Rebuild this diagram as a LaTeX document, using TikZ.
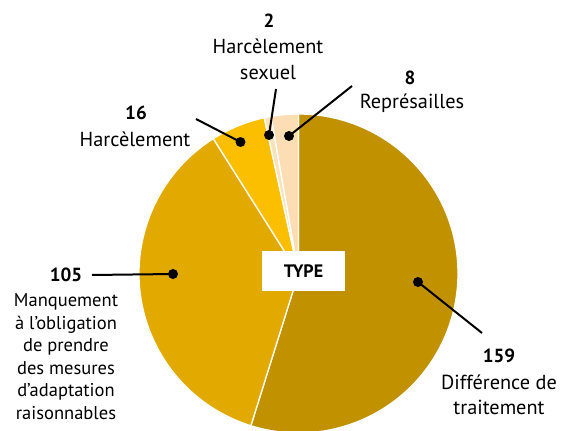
\documentclass[tikz,border=0pt]{standalone}
\usepackage{fontspec}
\setmainfont{PT Sans}
\usepackage{tikz}

\definecolor{coldif}{RGB}{193,145,0}
\definecolor{colman}{RGB}{226,169,0}
\definecolor{colhar}{RGB}{252,191,0}
\definecolor{colsex}{RGB}{250,226,186}
\definecolor{colrep}{RGB}{253,222,180}

\tikzset{
  slice/.style={draw=white, line width=1.3pt},
  dot/.style={circle, fill=black, inner sep=0pt, minimum size=10pt},
  leader/.style={line width=2pt},
  num/.style={inner sep=0.75pt, font=\fontsize{19}{22}\selectfont\bfseries},
  lbl/.style={inner sep=0.75pt, align=center, font=\fontsize{20.3}{25.5}\selectfont},
}

\begin{document}
\begin{tikzpicture}[x=1pt,y=1pt,yscale=-1,xscale=1]
\path[use as bounding box] (0,0) rectangle (563,431);

\coordinate (ctr) at (298.5,273.5);

%Shape: Pie slices (clockwise from the top)
\filldraw[slice, fill=coldif] (ctr) -- ++(-90:159.5) arc[start angle=-90, end angle=107.38, radius=159.5] -- cycle;
\filldraw[slice, fill=colman] (ctr) -- ++(107.38:159.5) arc[start angle=107.38, end angle=237.72, radius=159.5] -- cycle;
\filldraw[slice, fill=colhar] (ctr) -- ++(237.72:159.5) arc[start angle=237.72, end angle=257.59, radius=159.5] -- cycle;
\filldraw[slice, fill=colsex] (ctr) -- ++(257.59:159.5) arc[start angle=257.59, end angle=260.07, radius=159.5] -- cycle;
\filldraw[slice, fill=colrep] (ctr) -- ++(260.07:159.5) arc[start angle=260.07, end angle=270, radius=159.5] -- cycle;

%Shape: Rectangle
\node[fill=white, minimum width=83pt, minimum height=40pt, inner sep=0pt,
  font=\fontsize{18}{20}\selectfont\bfseries] (type) at (303.5,271) {TYPE};

%Shape: Circle
\node[dot] (dotdif) at (418,282) {};
\node[dot] (dotman) at (173,274) {};
\node[dot] (dothar) at (240.5,142) {};
\node[dot] (dotsex) at (269,135) {};
\node[dot] (dotrep) at (289,136) {};

%Straight Lines
\coordinate (enddif) at (482,333);
\coordinate (endman) at (92,275);
\coordinate (endhar) at (196,119);
\coordinate (endsex) at (276,89);
\coordinate (endrep) at (352,86);
\draw[leader] (dotdif.center) -- (enddif);
\draw[leader] (dotman.center) -- (endman);
\draw[leader] (dothar.center) -- (endhar);
\draw[leader] (dotsex.center) -- (endsex);
\draw[leader] (dotrep.center) -- (endrep);

% Text Node
\node[num] (numdif) at (499,356) {159};
\node[lbl] (lbldif) at (499,395) {Différence de\\traitement};
% Text Node
\node[num] (numman) at (66,275) {105};
\node[lbl, font=\fontsize{18.5}{22.5}\selectfont] (lblman) at (66,356.5) {Manquement\\à l’obligation\\de prendre\\des mesures\\d’adaptation\\raisonnables};
% Text Node
\node[num] (numhar) at (136,113) {16};
\node[lbl] (lblhar) at (135,139) {Harcèlement};
% Text Node
\node[num] (numsex) at (269,21) {2};
\node[lbl] (lblsex) at (268,59.5) {Harcèlement\\sexuel};
% Text Node
\node[num] (numrep) at (410,78) {8};
\node[lbl] (lblrep) at (412,103) {Représailles};

\end{tikzpicture}
\end{document}
